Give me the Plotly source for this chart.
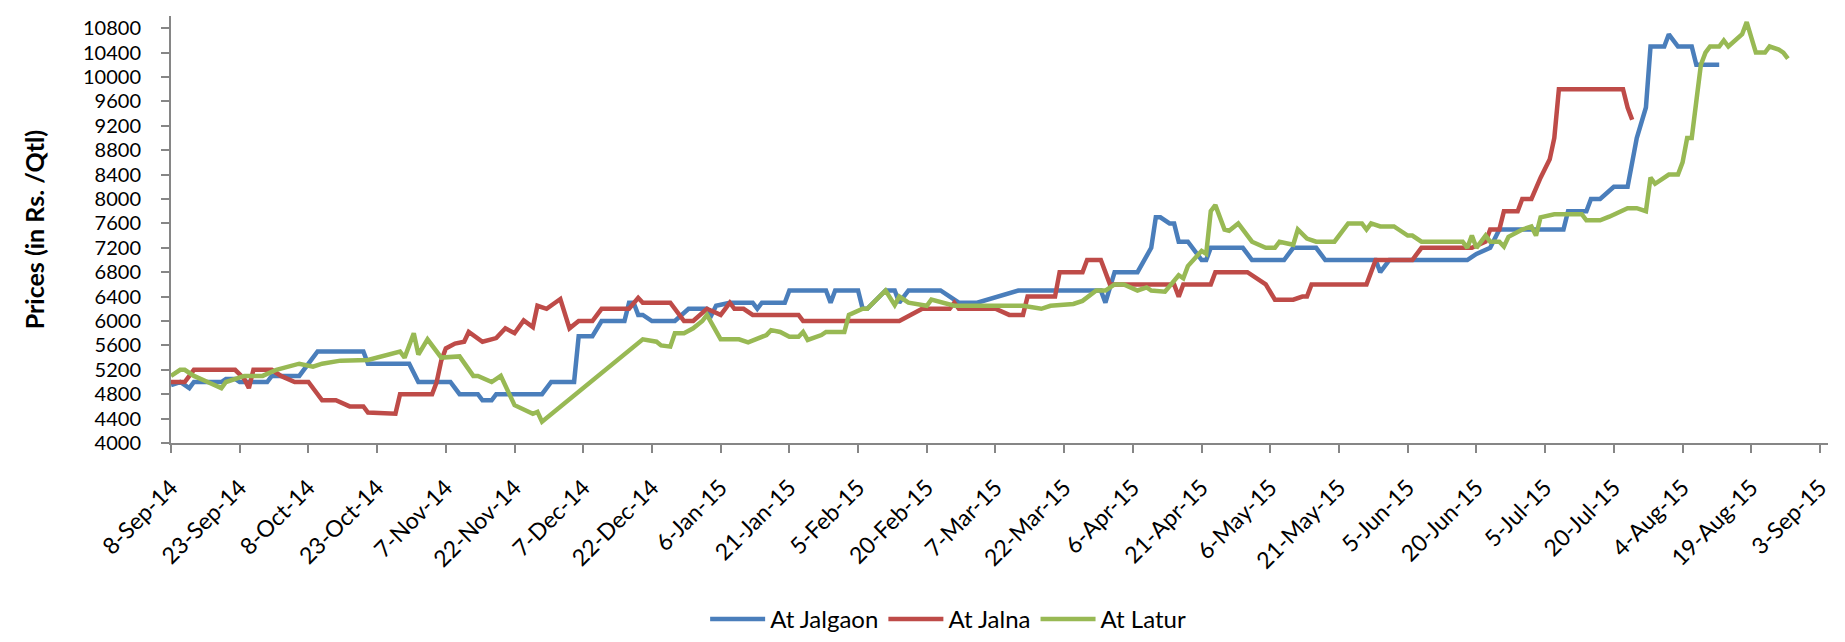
import plotly.graph_objects as go

# ---------------- data ----------------
jalgaon_dates = ["2014-09-08","2014-09-10","2014-09-12","2014-09-13","2014-09-19","2014-09-20","2014-09-22","2014-09-23",
    "2014-09-29","2014-09-30","2014-10-06","2014-10-10","2014-10-20","2014-10-21","2014-10-30","2014-11-01","2014-11-08",
    "2014-11-10","2014-11-14","2014-11-15","2014-11-17","2014-11-18","2014-11-28","2014-11-30","2014-12-05","2014-12-06",
    "2014-12-09","2014-12-11","2014-12-16","2014-12-17","2014-12-18","2014-12-19","2014-12-20","2014-12-22","2014-12-27",
    "2014-12-30","2015-01-03","2015-01-04","2015-01-05","2015-01-08","2015-01-13","2015-01-14","2015-01-15","2015-01-20",
    "2015-01-21","2015-01-29","2015-01-30","2015-01-31","2015-02-05","2015-02-06","2015-02-07","2015-02-11","2015-02-13",
    "2015-02-14","2015-02-16","2015-02-23","2015-02-27","2015-03-03","2015-03-12","2015-03-30","2015-03-31","2015-04-02",
    "2015-04-07","2015-04-10","2015-04-11","2015-04-12","2015-04-14","2015-04-15","2015-04-16","2015-04-18","2015-04-21",
    "2015-04-22","2015-04-23","2015-04-30","2015-05-02","2015-05-09","2015-05-11","2015-05-16","2015-05-18","2015-05-29",
    "2015-05-30","2015-06-01","2015-06-18","2015-06-20","2015-06-23","2015-06-25","2015-07-09","2015-07-10","2015-07-14",
    "2015-07-15","2015-07-17","2015-07-20","2015-07-23","2015-07-25","2015-07-27","2015-07-28","2015-07-31","2015-08-01",
    "2015-08-03","2015-08-06","2015-08-07","2015-08-12"]
jalgaon_prices = [4950,5000,4900,5000,5000,5050,5050,5000,
    5000,5100,5100,5500,5500,5300,5300,5000,5000,
    4800,4800,4700,4700,4800,4800,5000,5000,5750,
    5750,6000,6000,6300,6300,6100,6100,6000,6000,
    6200,6200,6100,6250,6300,6300,6200,6300,6300,
    6500,6500,6300,6500,6500,6200,6200,6500,6500,
    6300,6500,6500,6300,6300,6500,6500,6300,6800,
    6800,7200,7700,7700,7600,7600,7300,7300,7000,
    7000,7200,7200,7000,7000,7200,7200,7000,7000,
    6800,7000,7000,7100,7200,7500,7500,7800,7800,
    8000,8000,8200,8200,9000,9500,10500,10500,10700,
    10500,10500,10200,10200]

jalna_dates = ["2014-09-08","2014-09-11","2014-09-13","2014-09-22","2014-09-24","2014-09-25","2014-09-26","2014-09-30",
    "2014-10-02","2014-10-05","2014-10-08","2014-10-11","2014-10-14","2014-10-17","2014-10-20","2014-10-21","2014-10-27",
    "2014-10-28","2014-11-04","2014-11-05","2014-11-06","2014-11-07","2014-11-09","2014-11-11","2014-11-12","2014-11-15",
    "2014-11-18","2014-11-20","2014-11-22","2014-11-24","2014-11-26","2014-11-27","2014-11-29","2014-12-02","2014-12-04",
    "2014-12-06","2014-12-09","2014-12-11","2014-12-17","2014-12-19","2014-12-20","2014-12-26","2014-12-29","2014-12-31",
    "2015-01-03","2015-01-06","2015-01-07","2015-01-08","2015-01-09","2015-01-11","2015-01-13","2015-01-23","2015-01-24",
    "2015-02-14","2015-02-19","2015-02-25","2015-02-26","2015-02-27","2015-03-07","2015-03-10","2015-03-13","2015-03-14",
    "2015-03-20","2015-03-21","2015-03-26","2015-03-27","2015-03-30","2015-04-01","2015-04-15","2015-04-16","2015-04-17",
    "2015-04-23","2015-04-24","2015-05-01","2015-05-05","2015-05-07","2015-05-11","2015-05-13","2015-05-14","2015-05-15",
    "2015-05-27","2015-05-29","2015-06-06","2015-06-08","2015-06-19","2015-06-22","2015-06-23","2015-06-25","2015-06-26",
    "2015-06-29","2015-06-30","2015-07-02","2015-07-04","2015-07-06","2015-07-07","2015-07-08","2015-07-22","2015-07-23",
    "2015-07-24"]
jalna_prices = [5000,5000,5200,5200,5050,4900,5200,5200,
    5100,5000,5000,4700,4700,4600,4600,4500,4480,
    4800,4800,5000,5350,5550,5630,5660,5820,5660,
    5720,5880,5800,6010,5900,6250,6200,6360,5880,
    6000,6000,6200,6200,6380,6300,6300,6000,6000,
    6200,6100,6200,6300,6200,6200,6100,6100,6000,
    6000,6200,6200,6300,6200,6200,6100,6100,6400,
    6400,6800,6800,7000,7000,6600,6600,6400,6600,
    6600,6800,6800,6600,6350,6350,6400,6400,6600,
    6600,7000,7000,7200,7200,7300,7500,7500,7800,
    7800,8000,8000,8350,8650,9000,9800,9800,9500,
    9300]

latur_dates = ["2014-09-08","2014-09-10","2014-09-11","2014-09-13","2014-09-16","2014-09-19","2014-09-20","2014-09-22",
    "2014-09-24","2014-09-28","2014-10-01","2014-10-06","2014-10-09","2014-10-11","2014-10-15","2014-10-21","2014-10-28",
    "2014-10-29","2014-10-31","2014-11-01","2014-11-03","2014-11-06","2014-11-10","2014-11-13","2014-11-14","2014-11-17",
    "2014-11-19","2014-11-22","2014-11-26","2014-11-27","2014-11-28","2014-12-20","2014-12-23","2014-12-24","2014-12-26",
    "2014-12-27","2014-12-29","2014-12-31","2015-01-02","2015-01-03","2015-01-06","2015-01-10","2015-01-12","2015-01-16",
    "2015-01-17","2015-01-19","2015-01-21","2015-01-23","2015-01-24","2015-01-25","2015-01-28","2015-01-29","2015-02-02",
    "2015-02-03","2015-02-06","2015-02-07","2015-02-11","2015-02-13","2015-02-14","2015-02-16","2015-02-20","2015-02-21",
    "2015-02-24","2015-02-26","2015-03-13","2015-03-15","2015-03-17","2015-03-19","2015-03-24","2015-03-26","2015-03-29",
    "2015-03-31","2015-04-02","2015-04-04","2015-04-07","2015-04-09","2015-04-10","2015-04-13","2015-04-16","2015-04-17",
    "2015-04-18","2015-04-21","2015-04-22","2015-04-23","2015-04-24","2015-04-26","2015-04-27","2015-04-29","2015-04-30",
    "2015-05-02","2015-05-05","2015-05-07","2015-05-08","2015-05-11","2015-05-12","2015-05-14","2015-05-16","2015-05-20",
    "2015-05-23","2015-05-26","2015-05-27","2015-05-28","2015-05-30","2015-06-02","2015-06-03","2015-06-05","2015-06-06",
    "2015-06-08","2015-06-17","2015-06-18","2015-06-19","2015-06-20","2015-06-22","2015-06-23","2015-06-25","2015-06-26",
    "2015-06-27","2015-06-30","2015-07-02","2015-07-03","2015-07-04","2015-07-07","2015-07-13","2015-07-14","2015-07-17",
    "2015-07-19","2015-07-23","2015-07-25","2015-07-27","2015-07-28","2015-07-29","2015-08-01","2015-08-03","2015-08-04",
    "2015-08-05","2015-08-06","2015-08-07","2015-08-08","2015-08-09","2015-08-10","2015-08-12","2015-08-13","2015-08-14",
    "2015-08-17","2015-08-18","2015-08-20","2015-08-22","2015-08-23","2015-08-25","2015-08-26","2015-08-27"]
latur_prices = [5100,5200,5200,5100,5000,4900,5000,5050,
    5100,5100,5200,5300,5250,5300,5350,5360,5500,
    5400,5800,5450,5700,5400,5420,5100,5100,5000,
    5100,4620,4480,4510,4350,5700,5660,5600,5580,
    5800,5800,5880,6000,6100,5700,5700,5650,5770,
    5850,5820,5740,5740,5820,5690,5770,5820,5820,
    6100,6200,6200,6500,6260,6400,6300,6250,6350,
    6300,6250,6250,6225,6200,6250,6280,6330,6500,
    6500,6600,6600,6500,6550,6500,6480,6750,6700,
    6900,7150,7100,7800,7900,7500,7480,7600,7500,
    7300,7200,7200,7300,7250,7500,7350,7300,7300,
    7600,7600,7500,7600,7550,7550,7500,7400,7400,
    7300,7300,7200,7400,7200,7400,7300,7300,7220,
    7380,7500,7550,7400,7700,7750,7750,7650,7650,
    7710,7850,7850,7800,8350,8250,8400,8400,8600,
    9000,9000,9600,10200,10400,10500,10500,10600,10500,
    10700,10900,10400,10400,10500,10450,10400,10300]

series_names = ["At Jalgaon", "At Jalna", "At Latur"]
series_colors = ["#4A7EBB", "#BE4B48", "#98B954"]

tick_dates = ["2014-09-08","2014-09-23","2014-10-08","2014-10-23","2014-11-07","2014-11-22","2014-12-07","2014-12-22",
    "2015-01-06","2015-01-21","2015-02-05","2015-02-20","2015-03-07","2015-03-22","2015-04-06","2015-04-21",
    "2015-05-06","2015-05-21","2015-06-05","2015-06-20","2015-07-05","2015-07-20","2015-08-04","2015-08-19","2015-09-03"]
tick_labels = ["8-Sep-14","23-Sep-14","8-Oct-14","23-Oct-14","7-Nov-14","22-Nov-14","7-Dec-14","22-Dec-14",
    "6-Jan-15","21-Jan-15","5-Feb-15","20-Feb-15","7-Mar-15","22-Mar-15","6-Apr-15","21-Apr-15",
    "6-May-15","21-May-15","5-Jun-15","20-Jun-15","5-Jul-15","20-Jul-15","4-Aug-15","19-Aug-15","3-Sep-15"]
y_ticks = [4000, 4400, 4800, 5200, 5600, 6000, 6400, 6800, 7200, 7600, 8000, 8400,
           8800, 9200, 9600, 10000, 10400, 10800]
y_tick_labels = [str(v) for v in y_ticks]

# ---------------- figure ----------------
FONT = "Lato, 'Open Sans', sans-serif"
fig = go.Figure()
for name, xs, ys, col in zip(series_names,
                             [jalgaon_dates, jalna_dates, latur_dates],
                             [jalgaon_prices, jalna_prices, latur_prices],
                             series_colors):
    fig.add_trace(go.Scatter(x=xs, y=ys, mode="lines", name=name,
                             line=dict(color=col, width=4.5)))

fig.update_layout(
    width=1845, height=642,
    margin=dict(l=163, r=25, t=8, b=199),
    paper_bgcolor="white", plot_bgcolor="white",
    font=dict(family=FONT, color="#000000", size=24),
    showlegend=True,
    legend=dict(orientation="h", x=0.469, xanchor="center", xref="paper",
                y=-0.413, yanchor="middle", font=dict(size=24, family=FONT),
                itemwidth=55, bgcolor="rgba(0,0,0,0)"),
)
fig.update_xaxes(
    type="date", range=["2014-09-08", "2015-09-04 18:00"],
    tickvals=tick_dates, ticktext=tick_labels, tickangle=-45,
    tickfont=dict(size=23, family=FONT),
    showgrid=False, zeroline=False,
    showline=True, linecolor="#868686", linewidth=2,
    ticks="outside", ticklen=8, tickcolor="#868686", tickwidth=1.5,
    ticklabelstandoff=12,
)
fig.update_yaxes(
    range=[4000, 11000], tickvals=y_ticks, ticktext=y_tick_labels,
    tickfont=dict(size=20, family=FONT),
    showgrid=False, zeroline=False,
    showline=True, linecolor="#868686", linewidth=2,
    ticks="outside", ticklen=8, tickcolor="#868686", tickwidth=1.5,
    ticklabelstandoff=16,
)
fig.add_annotation(text="<b>Prices (in Rs. /Qtl)</b>", xref="paper", yref="paper",
                   x=-0.0828, y=0.5, xanchor="center", yanchor="middle",
                   textangle=-90, showarrow=False, font=dict(size=25, family=FONT))

fig.write_html("out.html")
